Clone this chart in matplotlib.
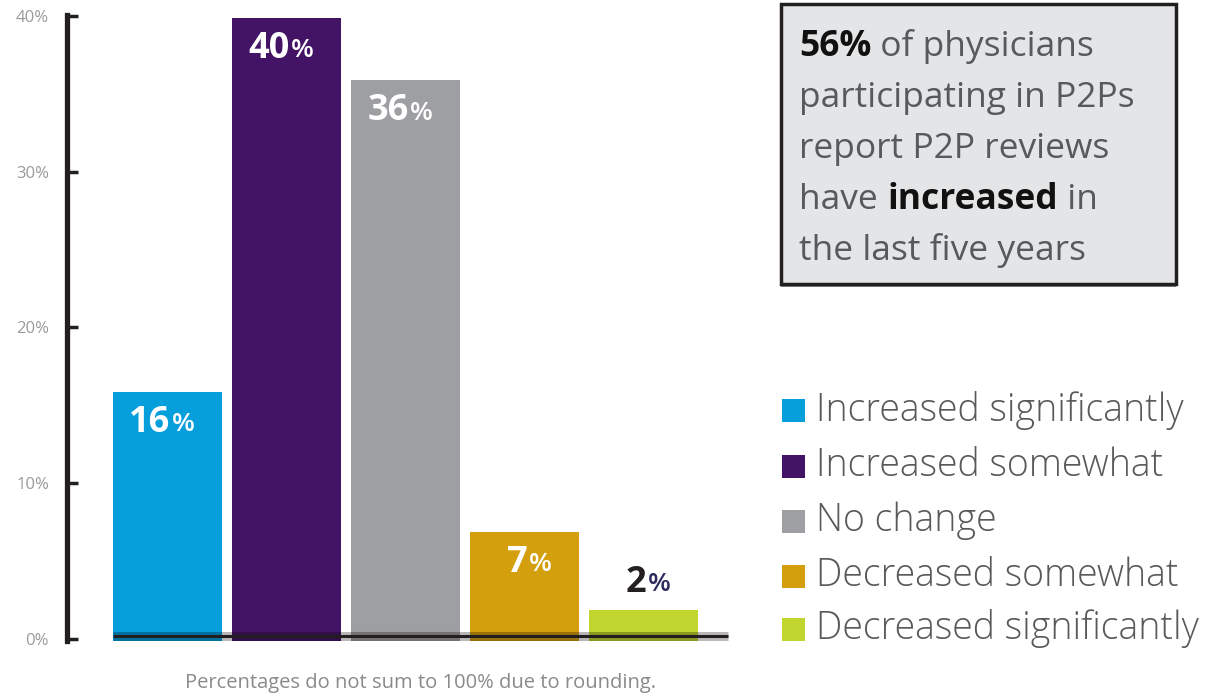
import matplotlib
matplotlib.use("Agg")
import matplotlib.pyplot as plt
from matplotlib.patches import Rectangle
from matplotlib import font_manager

# survey answers: change in P2P reviews over the last five years
categories = ["Increased significantly", "Increased somewhat", "No change",
              "Decreased somewhat", "Decreased significantly"]
values = [16, 40, 36, 7, 2]
colors = ["#069edb", "#431466", "#9e9fa3", "#d39f0c", "#c1d52f"]
yticks = [0, 10, 20, 30, 40]
ytick_labels = ["0%", "10%", "20%", "30%", "40%"]
callout = [
    [("56%", "bold"), (" of physicians", "normal")],
    [("participating in P2Ps", "normal")],
    [("report P2P reviews", "normal")],
    [("have ", "normal"), ("increased", "bold"), (" in", "normal")],
    [("the last five years", "normal")],
]
note = "Percentages do not sum to 100% due to rounding."

names = {f.name for f in font_manager.fontManager.ttflist}
main_font = "Open Sans" if "Open Sans" in names else "DejaVu Sans"
plt.rcParams["font.family"] = [main_font, "DejaVu Sans"]

W, H = 1217, 695
fig = plt.figure(figsize=(W / 100, H / 100), dpi=100)
ax = fig.add_axes([67 / W, (H - 641) / H, 663 / W, 626 / H])

x = list(range(len(values)))
ax.bar(x, values, width=0.92, color=colors, bottom=-0.15, zorder=2)
ax.set_xlim(-0.845, 4.727)
ax.set_ylim(-0.15, 40.05)

# dark baseline with a soft shadow band
ax.axhline(0.15, xmin=0.069, xmax=0.997, color="#000000", alpha=0.28, lw=6.5,
           solid_capstyle="butt", zorder=3)
ax.axhline(0.15, xmin=0.069, xmax=0.997, color="#231f20", lw=2.2,
           solid_capstyle="butt", zorder=4)

for s in ["top", "right", "bottom"]:
    ax.spines[s].set_visible(False)
ax.spines["left"].set_linewidth(3.8)
ax.spines["left"].set_color("#231f20")
ax.set_xticks([])
ax.set_yticks(yticks)
ax.set_yticklabels(ytick_labels, fontsize=12, color="#9a9a9a")
ax.tick_params(axis="y", direction="in", length=8, width=2.5, color="#231f20", pad=13)

# value labels: big bold number, smaller percent sign
for xi, v in zip(x, values):
    if v >= 5:
        dy, num_c, pct_c = -33, "white", "white"
    else:
        dy, num_c, pct_c = 25, "#231f20", "#2b2b5c"
    ax.annotate(str(v), (xi, v), xytext=(3, dy), textcoords="offset pixels",
                ha="right", va="center", fontsize=26, fontweight="bold",
                color=num_c, zorder=5)
    ax.annotate("%", (xi, v), xytext=(4, dy - 2), textcoords="offset pixels",
                ha="left", va="center", fontsize=19, fontweight="semibold",
                color=pct_c, zorder=5)

# callout box
box = Rectangle((781 / W, (H - 284) / H), 395 / W, 280 / H, transform=fig.transFigure,
                facecolor="#e4e5e6", edgecolor="#231f20", lw=2.5, zorder=1)
fig.patches.append(box)
shadow = Rectangle((781 / W, (H - 287) / H), 395 / W, 3 / H, transform=fig.transFigure,
                   facecolor="#8a8a8a", edgecolor="none", zorder=0)
fig.patches.append(shadow)

fig.canvas.draw()
renderer = fig.canvas.get_renderer()
line_y = [56, 107, 158, 209, 260]
for runs, yb in zip(callout, line_y):
    xp = 799
    for txt, wt in runs:
        t = fig.text(xp / W, (H - yb) / H, txt, fontsize=25.5, fontweight=wt,
                     color="#111111" if wt == "bold" else "#58595b",
                     ha="left", va="baseline")
        xp = t.get_window_extent(renderer).x1

# legend
leg_y = [410, 466, 521, 576, 629]
for lab, c, yc in zip(categories, colors, leg_y):
    fig.patches.append(Rectangle((782 / W, (H - yc - 11.5) / H), 23 / W, 23 / H,
                                 transform=fig.transFigure, facecolor=c, edgecolor="none"))
    fig.text(816 / W, (H - yc) / H, lab, fontsize=27, fontweight="light",
             color="#58595b", ha="left", va="center")

fig.text(421 / W, (H - 683) / H, note, fontsize=14.5, color="#8a8a8a",
         ha="center", va="center")

fig.savefig("out.png", dpi=100)
